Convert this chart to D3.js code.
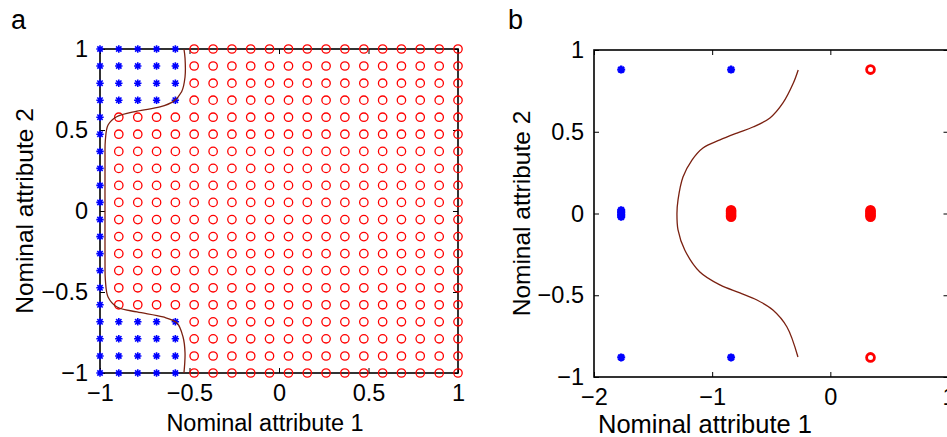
<!DOCTYPE html>
<meta charset="utf-8">
<script src="https://d3js.org/d3.v7.min.js"></script>
<style>
  body { margin: 0; background: #fff; }
  text { font-family: "Liberation Sans", Arial, Helvetica, sans-serif; }
</style>
<div id="chart"></div>
<script>

// ---- data ----
// panel a: 20 x 20 grid of nominal attribute values
var gridVals = [-1, -0.895, -0.789, -0.684, -0.579, -0.474, -0.368, -0.263, -0.158, -0.053,
                0.053, 0.158, 0.263, 0.368, 0.474, 0.579, 0.684, 0.789, 0.895, 1];
// class of each grid point, rows from top (y = 1) to bottom (y = -1); * = blue, o = red
var gridClass = [
  "*****ooooooooooooooo",
  "*****ooooooooooooooo",
  "*****ooooooooooooooo",
  "*****ooooooooooooooo",
  "*ooooooooooooooooooo",
  "*ooooooooooooooooooo",
  "*ooooooooooooooooooo",
  "*ooooooooooooooooooo",
  "*ooooooooooooooooooo",
  "*ooooooooooooooooooo",
  "*ooooooooooooooooooo",
  "*ooooooooooooooooooo",
  "*ooooooooooooooooooo",
  "*ooooooooooooooooooo",
  "*ooooooooooooooooooo",
  "*ooooooooooooooooooo",
  "*****ooooooooooooooo",
  "*****ooooooooooooooo",
  "*****ooooooooooooooo",
  "*****ooooooooooooooo"
];
// decision boundary, panel a
var boundaryA = [
  [-0.531, 1.0], [-0.525, 0.944], [-0.525, 0.827], [-0.544, 0.736], [-0.592, 0.675],
  [-0.665, 0.642], [-0.793, 0.617], [-0.907, 0.582], [-0.955, 0.531], [-0.970, 0.438],
  [-0.972, 0.315], [-0.972, 0], [-0.972, -0.315], [-0.970, -0.426], [-0.955, -0.531],
  [-0.905, -0.593], [-0.793, -0.623], [-0.648, -0.654], [-0.570, -0.691], [-0.536, -0.778],
  [-0.525, -0.877], [-0.531, -1.0]
];

// panel b: embedded points
var blueB = [
  [-1.77, 0.88], [-1.77, -0.88], [-0.84, 0.88], [-0.84, -0.88],
  [-1.77, -0.02], [-1.77, -0.01], [-1.77, 0], [-1.77, 0.01], [-1.77, 0.02]
];
var redB = [
  [0.34, 0.88], [0.34, -0.88],
  [-0.84, -0.02], [-0.84, -0.01], [-0.84, 0], [-0.84, 0.01], [-0.84, 0.02],
  [0.34, -0.02], [0.34, -0.01], [0.34, 0], [0.34, 0.01], [0.34, 0.02]
];
// decision boundary, panel b
var boundaryB = [
  [-0.272, 0.878], [-0.314, 0.796], [-0.401, 0.676], [-0.511, 0.584], [-0.655, 0.529],
  [-0.790, 0.492], [-0.934, 0.450], [-1.078, 0.401], [-1.171, 0.327], [-1.247, 0.223],
  [-1.289, 0.083], [-1.298, 0], [-1.289, -0.100], [-1.232, -0.223], [-1.104, -0.358],
  [-0.934, -0.437], [-0.765, -0.486], [-0.621, -0.529], [-0.486, -0.590], [-0.367, -0.694],
  [-0.274, -0.878]
];

var ticksA = [-1, -0.5, 0, 0.5, 1];
var ticksBx = [-2, -1, 0, 1];
var ticksBy = [-1, -0.5, 0, 0.5, 1];

// ---- drawing ----
var W = 947, H = 437;
var svg = d3.select("#chart").append("svg")
  .attr("width", W).attr("height", H);

var blue = "#0000ff", red = "#ff0000", curveCol = "#7a2010";
var fmt = d3.format("");

// matlab style '*' marker
function star(s) {
  var d = s * 0.72;
  return "M" + (-s) + ",0L" + s + ",0M0," + (-s) + "L0," + s +
         "M" + (-d) + "," + (-d) + "L" + d + "," + d +
         "M" + (-d) + "," + d + "L" + d + "," + (-d);
}

function drawAxes(x, y, xt, yt, padY) {
  var x0 = x.range()[0], x1 = x.range()[1], y0 = y.range()[0], y1 = y.range()[1];
  var bottom = svg.append("g").attr("transform", "translate(0," + y0 + ")")
    .call(d3.axisBottom(x).tickValues(xt).tickSize(-5).tickPadding(11).tickFormat(fmt));
  var left = svg.append("g").attr("transform", "translate(" + x0 + ",0)")
    .call(d3.axisLeft(y).tickValues(yt).tickSize(-5).tickPadding(padY).tickFormat(fmt));
  var top = svg.append("g").attr("transform", "translate(0," + y1 + ")")
    .call(d3.axisTop(x).tickValues(xt).tickSize(-5).tickFormat(""));
  var right = svg.append("g").attr("transform", "translate(" + x1 + ",0)")
    .call(d3.axisRight(y).tickValues(yt).tickSize(-5).tickFormat(""));
  [bottom, left, top, right].forEach(function(g) {
    g.select(".domain").remove();
    g.selectAll("line").attr("stroke", "#000").attr("stroke-width", 1);
    g.selectAll("text").attr("fill", "#000").style("font-size", "23.5px");
  });
  svg.append("rect")
    .attr("x", x0).attr("y", y1)
    .attr("width", x1 - x0).attr("height", y0 - y1)
    .attr("fill", "none").attr("stroke", "#000").attr("stroke-width", 1.6);
}

function labels(y, letter, lx, xLabX, xLabY, xSize, yLabX) {
  var y0 = y.range()[0], y1 = y.range()[1];
  svg.append("text")
    .attr("x", xLabX).attr("y", xLabY)
    .attr("text-anchor", "middle").style("font-size", xSize + "px")
    .text("Nominal attribute 1");
  svg.append("text")
    .attr("transform", "translate(" + yLabX + "," + ((y0 + y1) / 2) + ") rotate(-90)")
    .attr("text-anchor", "middle").style("font-size", "24.5px")
    .text("Nominal attribute 2");
  svg.append("text")
    .attr("x", lx).attr("y", 29)
    .style("font-size", "27px")
    .text(letter);
}

// ---- panel a ----
var xA = d3.scaleLinear().domain([-1, 1]).range([100, 458]);
var yA = d3.scaleLinear().domain([-1, 1]).range([373, 49]);

var gridPts = [];
gridClass.forEach(function(row, r) {
  row.split("").forEach(function(c, k) {
    gridPts.push({ x: gridVals[k], y: gridVals[gridVals.length - 1 - r], c: c });
  });
});

drawAxes(xA, yA, ticksA, ticksA, 12);

svg.append("g").selectAll("circle")
  .data(gridPts.filter(function(d) { return d.c === "o"; }))
  .enter().append("circle")
    .attr("cx", function(d) { return xA(d.x); })
    .attr("cy", function(d) { return yA(d.y); })
    .attr("r", 4.2)
    .attr("fill", "none")
    .attr("stroke", red)
    .attr("stroke-width", 1.3);

svg.append("g").selectAll("path")
  .data(gridPts.filter(function(d) { return d.c === "*"; }))
  .enter().append("path")
    .attr("transform", function(d) { return "translate(" + xA(d.x) + "," + yA(d.y) + ")"; })
    .attr("d", star(3.7))
    .attr("stroke", blue)
    .attr("stroke-width", 1.6);

svg.append("path")
  .datum(boundaryA)
  .attr("d", d3.line()
    .x(function(d) { return xA(d[0]); })
    .y(function(d) { return yA(d[1]); })
    .curve(d3.curveCatmullRom))
  .attr("fill", "none")
  .attr("stroke", curveCol)
  .attr("stroke-width", 1.3);

labels(yA, "a", 11, 265, 431, 23.5, 33);

// ---- panel b ----
var xB = d3.scaleLinear().domain([-2, 1]).range([594, 948.5]);
var yB = d3.scaleLinear().domain([-1, 1]).range([377, 50]);

drawAxes(xB, yB, ticksBx, ticksBy, 10);

svg.append("g").selectAll("circle")
  .data(redB)
  .enter().append("circle")
    .attr("cx", function(d) { return xB(d[0]); })
    .attr("cy", function(d) { return yB(d[1]); })
    .attr("r", 3.9)
    .attr("fill", "none")
    .attr("stroke", red)
    .attr("stroke-width", 2.8);

svg.append("g").selectAll("path")
  .data(blueB)
  .enter().append("path")
    .attr("transform", function(d) { return "translate(" + xB(d[0]) + "," + yB(d[1]) + ")"; })
    .attr("d", star(4))
    .attr("stroke", blue)
    .attr("stroke-width", 2.4);

svg.append("path")
  .datum(boundaryB)
  .attr("d", d3.line()
    .x(function(d) { return xB(d[0]); })
    .y(function(d) { return yB(d[1]); })
    .curve(d3.curveCatmullRom))
  .attr("fill", "none")
  .attr("stroke", curveCol)
  .attr("stroke-width", 1.3);

labels(yB, "b", 508, 705, 433, 25.5, 530);

</script>
